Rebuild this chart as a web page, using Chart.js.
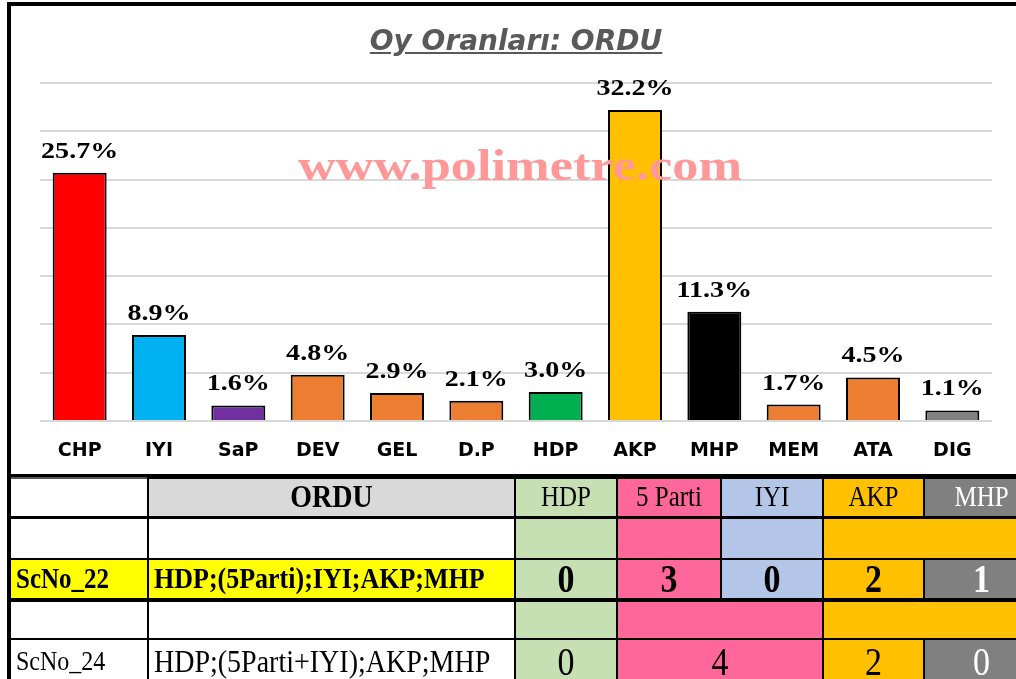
<!DOCTYPE html>
<html>
<head>
<meta charset="utf-8">
<script src="https://cdn.jsdelivr.net/npm/chart.js@4"></script>
<style>
	body {
		margin: 0;
		width: 1016px;
		height: 679px;
		overflow: hidden;
		background: #fff;
		position: relative;
	}
	#graficoVotos {
		position: absolute;
		left: 0;
		top: 0;
	}
	#moldura {
		position: absolute;
		left: 7px;
		top: 2px;
		width: 1100px;
		height: 468px;
		border-top: 4px solid #000;
		border-left: 4px solid #000;
		border-bottom: 3px solid #000;
		pointer-events: none;
	}
	#titulo {
		position: absolute;
		left: 7px;
		width: 1018px;
		top: 25px;
		text-align: center;
		font: italic bold 28px "DejaVu Sans";
		line-height: 32px;
		color: #595959;
		text-decoration: underline;
	}
	table {
		position: absolute;
		left: 7px;
		top: 477px;
		border-collapse: collapse;
		table-layout: fixed;
		width: 1030px;
		font-family: "Liberation Serif";
		border-left: 4px solid #000;
		border-top: 2px solid #555;
	}
	td {
		border: 2px solid #000;
		padding: 0;
		text-align: center;
		white-space: nowrap;
		overflow: hidden;
	}
	.esq { text-align: left; padding-left: 5px; }
	.alto { display: inline-block; transform: scaleY(1.15); }
	.cinza { background: #d9d9d9; }
	.verde { background: #c6e0b4; }
	.rosa { background: #ff6699; }
	.azul { background: #b4c6e7; }
	.laranja { background: #ffc000; }
	.cinzaEsc { background: #808080; color: #fff; }
	.amarelo { background: #ffff00; }
</style>
</head>
<body>
<canvas id="graficoVotos" width="1016" height="473"></canvas>
<div id="moldura"></div>
<div id="titulo">Oy Oranları: ORDU</div>
<table id="tabela"></table>

<script>
	// Dados do gráfico
	var partidos = ["CHP", "IYI", "SaP", "DEV", "GEL", "D.P", "HDP", "AKP", "MHP", "MEM", "ATA", "DIG"];
	var votos = [25.7, 8.9, 1.6, 4.8, 2.9, 2.1, 3.0, 32.2, 11.3, 1.7, 4.5, 1.1];
	var cores = ["#ff0000", "#00b0f0", "#7030a0", "#ed7d31", "#ed7d31", "#ed7d31", "#00b050", "#ffc000", "#000000", "#ed7d31", "#ed7d31", "#808080"];

	// Dados da tabela
	var cidade = "ORDU";
	var colunasTabela = ["HDP", "5 Parti", "IYI", "AKP", "MHP"];
	var cenario22 = ["ScNo_22", "HDP;(5Parti);IYI;AKP;MHP"];
	var cadeiras22 = [0, 3, 0, 2, 1];
	var cenario24 = ["ScNo_24", "HDP;(5Parti+IYI);AKP;MHP"];
	var cadeiras24 = [0, 4, 2, 0];

	var marcaDagua = "www.polimetre.com";

	// escreve texto esticado na horizontal
	function textoEsticado(ctx, texto, x, y, escala) {
		ctx.save();
		ctx.translate(x, y);
		ctx.scale(escala, 1);
		ctx.fillText(texto, 0, 0);
		ctx.restore();
	}

	var rotulos = {
		id: "rotulos",
		afterDatasetsDraw: function (chart) {
			var ctx = chart.ctx;
			var barras = chart.getDatasetMeta(0).data;

			ctx.save();
			ctx.fillStyle = "#000";
			ctx.font = "bold 23px 'Liberation Serif'";
			ctx.textAlign = "center";
			ctx.textBaseline = "middle";
			for (var i = 0; i < barras.length; i++) {
				textoEsticado(ctx, votos[i].toFixed(1) + "%", barras[i].x, barras[i].y - 21, 1.22);
			}

			// marca d'agua
			ctx.fillStyle = "#ff9999";
			ctx.font = "bold 44px 'Liberation Serif'";
			ctx.textBaseline = "alphabetic";
			textoEsticado(ctx, marcaDagua, 520, 180, 1.19);
			ctx.restore();
		},
	};

	var grafico = new Chart(document.getElementById("graficoVotos"), {
		type: "bar",
		data: {
			labels: partidos,
			datasets: [
				{
					data: votos,
					backgroundColor: cores,
					borderColor: "#000",
					borderWidth: 2,
					categoryPercentage: 1,
					barPercentage: 0.68,
				},
			],
		},
		options: {
			responsive: false,
			animation: false,
			layout: { padding: { left: 40, right: 24, top: 83, bottom: 0 } },
			plugins: {
				legend: { display: false },
				tooltip: { enabled: false },
			},
			scales: {
				x: {
					grid: { display: false, drawTicks: false },
					border: { display: false },
					ticks: {
						color: "#000",
						font: { family: "DejaVu Sans", weight: "bold", size: 19 },
						padding: 19,
					},
					afterFit: function (eixo) {
						eixo.height = 52;
					},
				},
				y: {
					min: 0,
					max: 35,
					ticks: { display: false, stepSize: 5 },
					grid: { color: "#d9d9d9", lineWidth: 2, drawTicks: false },
					border: { display: false },
					afterFit: function (eixo) {
						eixo.width = 0;
					},
				},
			},
		},
		plugins: [rotulos],
	});

	// Monta a tabela
	function montarTabela() {
		var corCol = ["verde", "rosa", "azul", "laranja", "cinzaEsc"];
		var html = "<colgroup><col style='width:139px'><col style='width:367px'>";
		var larguras = [102, 104, 102, 101, 115];
		for (var i = 0; i < larguras.length; i++) {
			html += "<col style='width:" + larguras[i] + "px'>";
		}
		html += "</colgroup>";

		// cabeçalho
		html += "<tr style='height:39px; border-bottom:3px solid #000'><td style='border-top:none'></td>";
		html += "<td class='cinza' style='font-weight:bold; font-size:28px'><span class='alto'>" + cidade + "</span></td>";
		for (var i = 0; i < colunasTabela.length; i++) {
			html += "<td class='" + corCol[i] + "' style='font-size:25px'><span class='alto'>" + colunasTabela[i] + "</span></td>";
		}
		html += "</tr>";

		// linha vazia
		html += "<tr style='height:42px'><td></td><td></td><td class='verde'></td><td class='rosa'></td><td class='azul'></td><td class='laranja' colspan='2'></td></tr>";

		// ScNo_22
		html += "<tr style='height:41px; border-bottom:4px solid #000'>";
		html += "<td class='amarelo esq' style='font-weight:bold; font-size:25px'><span class='alto'>" + cenario22[0] + "</span></td>";
		html += "<td class='amarelo esq' style='font-weight:bold; font-size:26px'><span class='alto'>" + cenario22[1] + "</span></td>";
		for (var i = 0; i < cadeiras22.length; i++) {
			html += "<td class='" + corCol[i] + "' style='font-weight:bold; font-size:34px'><span class='alto'>" + cadeiras22[i] + "</span></td>";
		}
		html += "</tr>";

		// linha vazia
		html += "<tr style='height:39px'><td></td><td></td><td class='verde'></td><td class='rosa' colspan='2'></td><td class='laranja' colspan='2'></td></tr>";

		// ScNo_24
		var cor24 = ["verde", "rosa", "laranja", "cinzaEsc"];
		html += "<tr style='height:45px'>";
		html += "<td class='esq' style='font-size:24px'><span class='alto'>" + cenario24[0] + "</span></td>";
		html += "<td class='esq' style='font-size:28px'><span class='alto'>" + cenario24[1] + "</span></td>";
		for (var i = 0; i < cadeiras24.length; i++) {
			var span = i == 1 ? " colspan='2'" : "";
			html += "<td class='" + cor24[i] + "'" + span + " style='font-size:34px'><span class='alto'>" + cadeiras24[i] + "</span></td>";
		}
		html += "</tr>";

		document.getElementById("tabela").innerHTML = html;
	}

	montarTabela();
</script>
</body>
</html>
